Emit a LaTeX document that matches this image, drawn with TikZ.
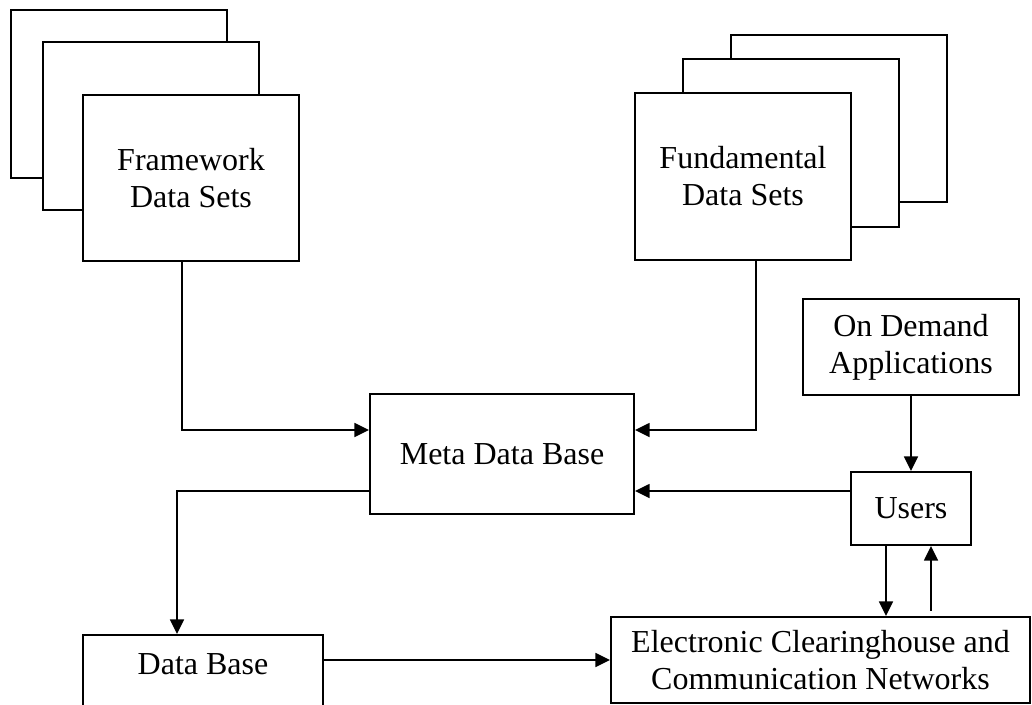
\documentclass[tikz,border=0pt]{standalone}
\usepackage{fontspec}
\setmainfont{Liberation Serif}
\usetikzlibrary{arrows.meta}
\tikzset{
  box/.style={draw, line width=1.5pt, fill=white, inner sep=0pt, align=center,
    font=\fontsize{24}{27.75}\selectfont},
  conn/.style={line width=1.2pt, -{Triangle[length=11pt,width=10.5pt]}},
  plain/.style={line width=1.2pt}
}
\begin{document}
\begin{tikzpicture}[x=0.75pt,y=-0.75pt]
\path[use as bounding box, clip] (0,0) rectangle (1032,704);
\fill[white] (0,0) rectangle (1032,704);
% Framework stack
\node[box, minimum width=162pt, minimum height=126pt] (fw1) at (119,94) {};
\node[box, minimum width=162pt, minimum height=126pt] (fw2) at (151,126) {};
\node[box, minimum width=162pt, minimum height=124.5pt] (fw3) at (191,178) {Framework\\Data Sets};
% Fundamental stack
\node[box, minimum width=162pt, minimum height=125.25pt] (fd1) at (839,118.5) {};
\node[box, minimum width=162pt, minimum height=126pt] (fd2) at (791,143) {};
\node[box, minimum width=162pt, minimum height=125.25pt] (fd3) at (743,176.5) {Fundamental\\Data Sets};
% Others
\node[box, minimum width=198pt, minimum height=90pt] (meta) at (502,454) {Meta Data Base};
\node[box, minimum width=162pt, minimum height=72pt] (ond) at (911,347) {On Demand\\Applications};
\node[box, minimum width=90pt, minimum height=54.75pt] (users) at (911,508.5) {Users};
\node[box, anchor=north, minimum width=180pt, text height=29.25pt, text depth=42.75pt] (db) at (203,634) {Data Base};
\node[box, minimum width=314.25pt, minimum height=64.5pt] (elec) at (820.5,660) {Electronic Clearinghouse and\\Communication Networks};
% Connectors
\draw[conn] (fw3.south -| 182,0) |- (meta.west |- 0,430);
\draw[conn] (fd3.south -| 756,0) |- (meta.east |- 0,430);
\draw[conn] (users.west |- 0,491) -- (meta.east |- 0,491);
\draw[conn] (meta.west |- 0,491) -| (db.north -| 177,0);
\draw[conn] (ond.south) -- (users.north);
\draw[conn] (db.east |- elec.west) -- (elec.west);
\draw[conn] (users.south -| 886,0) -- (elec.north -| 886,0);
\draw[conn, shorten <=4pt] (elec.north -| 931,0) -- (users.south -| 931,0);
\end{tikzpicture}
\end{document}
